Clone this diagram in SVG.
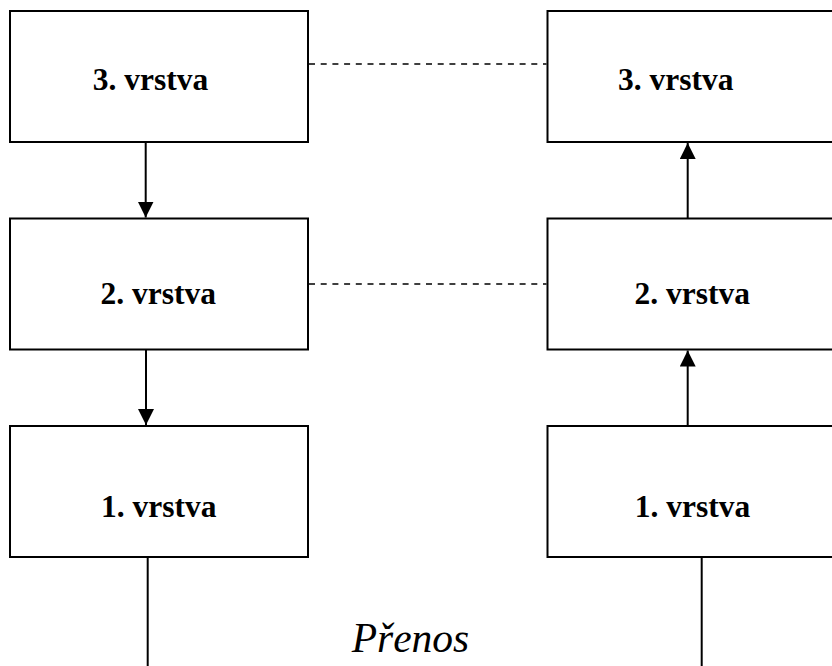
<svg xmlns="http://www.w3.org/2000/svg" width="832" height="666" viewBox="0 0 832 666">
  <style>
    .box { fill: #ffffff; stroke: #000000; stroke-width: 2; }
    .label { font-family: "Liberation Serif", "Times New Roman", serif; font-weight: bold; font-size: 31.5px; fill: #000000; text-anchor: middle; }
    .link { stroke: #000000; stroke-width: 2; fill: none; }
    .peer { stroke: #000000; stroke-width: 1.7; stroke-dasharray: 6 5.7; fill: none; }
    .medium { font-family: "Liberation Serif", "Times New Roman", serif; font-style: italic; font-size: 41.5px; fill: #000000; text-anchor: middle; }
  </style>
  <defs>
    <marker id="arrow" markerUnits="userSpaceOnUse" markerWidth="16" markerHeight="16" refX="16" refY="8" orient="auto">
      <path d="M0,0 L16,8 L0,16 Z" fill="#000000"/>
    </marker>
  </defs>
  <rect width="832" height="666" fill="#ffffff"/>

  <!-- sender stack -->
  <g id="left-layer3">
    <rect class="box" x="10" y="11" width="298" height="131"/>
    <text class="label" x="150.5" y="90">3. vrstva</text>
  </g>
  <g id="left-layer2">
    <rect class="box" x="10" y="218.5" width="298" height="131"/>
    <text class="label" x="158.3" y="304">2. vrstva</text>
  </g>
  <g id="left-layer1">
    <rect class="box" x="10" y="426" width="298" height="131"/>
    <text class="label" x="158.8" y="516.7">1. vrstva</text>
  </g>

  <!-- receiver stack -->
  <g id="right-layer3">
    <rect class="box" x="547.5" y="11" width="298" height="131"/>
    <text class="label" x="675.8" y="90">3. vrstva</text>
  </g>
  <g id="right-layer2">
    <rect class="box" x="547.5" y="218.5" width="298" height="131"/>
    <text class="label" x="692.2" y="304">2. vrstva</text>
  </g>
  <g id="right-layer1">
    <rect class="box" x="547.5" y="426" width="298" height="131"/>
    <text class="label" x="692.5" y="516.7">1. vrstva</text>
  </g>

  <!-- transfer medium label -->
  <g id="medium">
    <text class="medium" x="410.5" y="651.7">Přenos</text>
  </g>

  <g id="connectors">
    <!-- peer-to-peer relations -->
    <line class="peer" x1="309" y1="64" x2="546.5" y2="64"/>
    <line class="peer" x1="309" y1="284" x2="546.5" y2="284"/>
    <!-- downward on the sender side -->
    <line class="link" x1="145.7" y1="142" x2="145.7" y2="217.5" marker-end="url(#arrow)"/>
    <line class="link" x1="146" y1="349.5" x2="146" y2="425" marker-end="url(#arrow)"/>
    <!-- upward on the receiver side -->
    <line class="link" x1="687.7" y1="218.5" x2="687.7" y2="143" marker-end="url(#arrow)"/>
    <line class="link" x1="687.7" y1="426" x2="687.7" y2="350.5" marker-end="url(#arrow)"/>
    <!-- physical links to the medium -->
    <line class="link" x1="147.7" y1="557" x2="147.7" y2="666"/>
    <line class="link" x1="701.7" y1="557" x2="701.7" y2="666"/>
  </g>
</svg>
